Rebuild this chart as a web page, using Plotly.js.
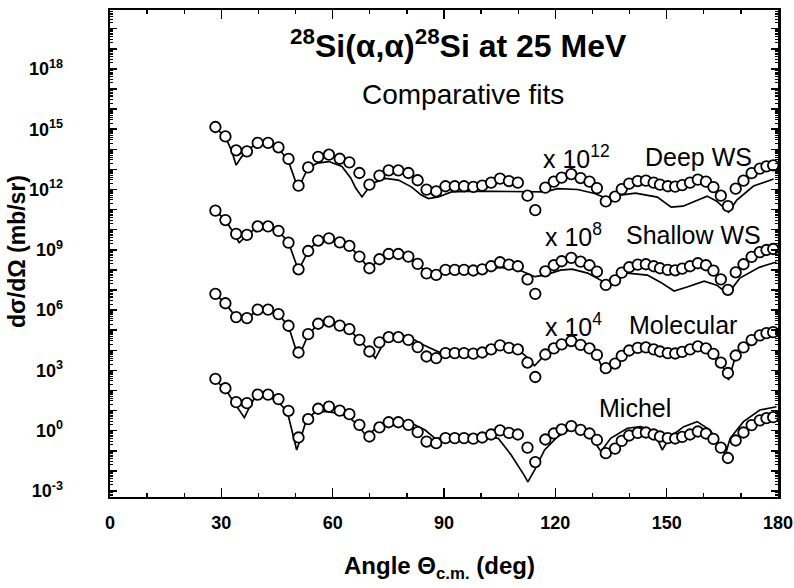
<!DOCTYPE html>
<html><head><meta charset="utf-8">
<script src="https://cdn.plot.ly/plotly-3.0.1.min.js"></script>
<style>html,body{margin:0;padding:0;background:#fff}#chart{width:794px;height:588px}</style>
</head><body><div id="chart"></div>
<script>
// Experimental angles (deg, c.m.) and cross sections (log10 mb/sr, unshifted = Michel level)
const angleExp = [28.4,31.1,34.0,36.9,39.8,42.6,45.4,48.1,50.8,53.4,
  56.1,59.0,61.9,64.5,67.2,69.9,72.6,75.1,77.7,80.4,
  82.9,85.3,87.9,90.4,92.9,95.4,97.9,100.3,102.7,105.1,
  107.5,109.9,112.5,114.6,117.3,119.6,121.7,124.3,126.8,129.2,
  131.2,133.6,136.1,137.9,139.9,142.2,144.4,146.5,148.2,150.3,
  152.3,154.2,156.3,158.4,160.6,162.6,164.6,166.5,168.6,170.7,
  172.9,175.1,176.9,178.7];
const sigmaExpLog10 = [2.58,2.11,1.42,1.37,1.79,1.79,1.57,0.99,-0.34,0.57,
  1.09,1.20,1.00,0.82,0.29,-0.29,0.16,0.42,0.42,0.29,
  -0.07,-0.54,-0.62,-0.37,-0.37,-0.37,-0.40,-0.34,-0.19,0.01,
  -0.11,-0.19,-0.84,-1.56,-0.44,-0.14,0.06,0.23,0.04,-0.14,
  -0.46,-1.12,-0.89,-0.51,-0.24,-0.11,-0.09,-0.19,-0.29,-0.37,
  -0.39,-0.31,-0.19,-0.04,-0.14,-0.41,-0.84,-1.36,-0.49,-0.09,
  0.28,0.51,0.62,0.67];

// vertical shift of each curve as drawn (decades)
const seriesNames = ['Deep WS','Shallow WS','Molecular','Michel'];
const shiftDecades = [12.53, 8.37, 4.23, 0];

// Fits (log10 mb/sr, before shift)
const fitDeepAngle = [28.4,31.1,32.7,34.0,35.4,37.0,39.7,42.6,45.3,48.0,50.8,52.0,53.4,55.8,59.0,62.5,64.9,66.2,67.9,69.2,70.5,74.2,77.7,81.2,83.9,85.8,88.5,92.0,96.5,102.7,108.0,112.6,117.2,120.6,126.0,130.6,134.9,137.5,141.6,147.5,151.2,154.4,158.2,160.9,163.5,165.4,166.7,168.9,173.4,178.8];
const fitDeepLog10 = [2.56,2.07,1.43,0.68,1.08,1.43,1.78,1.78,1.53,0.93,-0.56,0.03,0.53,0.78,0.86,0.61,0.03,-0.46,-0.90,-0.56,-0.24,0.02,-0.06,-0.40,-0.81,-0.98,-0.90,-0.65,-0.62,-0.62,-0.62,-0.65,-0.65,-0.49,-0.53,-0.73,-1.06,-0.81,-0.71,-0.91,-1.41,-1.36,-1.06,-0.86,-1.11,-1.41,-1.66,-1.06,-0.36,-0.01];

const fitShallowAngle = [28.4,31.1,33.0,34.8,36.9,39.8,42.6,45.4,48.1,50.8,53.4,56.1,59.0,61.9,64.5,67.2,69.9,72.6,75.1,77.7,80.4,82.9,85.3,87.9,90.4,95.4,100.3,105.1,109.9,112.5,114.4,117.2,121.4,124.5,128.7,133.2,135.9,139.4,144.8,148.3,152.0,155.5,160.1,163.5,166.5,169.7,175.1,179.6];
const fitShallowLog10 = [2.58,2.11,1.55,0.98,1.35,1.79,1.79,1.57,0.99,-0.40,0.57,1.09,1.20,1.00,0.82,0.29,-0.32,0.16,0.42,0.42,0.29,-0.07,-0.54,-0.62,-0.40,-0.40,-0.38,-0.25,-0.35,-0.55,-0.71,-0.63,-0.38,-0.33,-0.53,-0.98,-0.83,-0.53,-0.63,-0.98,-1.42,-1.22,-0.93,-1.13,-1.57,-0.78,-0.23,0.02];

const fitMolecularAngle = [28.4,31.1,34.0,36.9,39.8,42.6,45.4,48.1,50.8,53.4,56.1,59.0,61.9,64.5,67.2,69.9,71.5,74.2,77.0,80.2,84.5,88.5,90.4,95.4,100.3,105.1,109.9,112.5,114.4,117.3,119.6,121.7,124.3,126.8,129.2,131.2,133.2,136.1,137.9,139.9,142.2,144.4,146.5,148.2,150.3,152.3,154.2,156.3,158.4,160.6,162.6,164.6,166.7,168.6,170.7,172.9,175.1,176.9,178.7];
const fitMolecularLog10 = [2.55,2.10,1.40,1.35,1.77,1.78,1.55,0.97,-0.60,0.55,1.08,1.19,1.00,0.80,0.28,-0.25,-0.63,0.28,0.50,0.48,0.03,-0.31,-0.37,-0.37,-0.34,-0.05,-0.19,-0.60,-1.00,-0.44,-0.14,0.06,0.23,0.04,-0.14,-0.46,-1.36,-0.89,-0.51,-0.24,-0.11,-0.09,-0.19,-0.29,-0.37,-0.39,-0.31,-0.19,-0.04,-0.14,-0.41,-0.84,-1.71,-0.49,-0.09,0.28,0.51,0.62,0.67];

const fitMichelAngle = [28.4,31.1,33.0,36.2,37.5,39.1,42.0,44.9,47.8,50.3,51.5,52.9,55.4,58.5,61.2,64.2,66.8,69.5,71.0,74.6,77.7,81.3,84.9,87.6,89.8,96.5,99.2,104.6,108.1,111.7,112.6,114.4,117.1,120.6,125.1,127.8,130.5,132.3,134.9,139.4,143.0,146.6,148.8,151.0,154.6,158.2,161.7,164.4,165.8,167.1,170.7,175.1,179.6];
const fitMichelLog10 = [2.52,2.06,1.53,0.65,1.13,1.68,1.69,1.53,0.93,-0.96,-0.31,0.53,0.95,0.95,0.87,0.70,0.28,-0.38,0.03,0.45,0.48,0.37,0.03,-0.38,-0.38,-0.31,-0.25,-0.38,-1.21,-2.25,-2.55,-1.96,-0.96,-0.30,0.20,0.03,-0.55,-1.04,-0.38,0.12,0.20,-0.05,-0.96,-0.30,0.20,0.45,0.03,-0.71,-1.21,-0.38,0.45,1.03,1.19];

const fitAngles = [fitDeepAngle, fitShallowAngle, fitMolecularAngle, fitMichelAngle];
const fitLogs = [fitDeepLog10, fitShallowLog10, fitMolecularLog10, fitMichelLog10];

const xTickVals = [0,30,60,90,120,150,180];
const yDecades = [-3,-2,-1,0,1,2,3,4,5,6,7,8,9,10,11,12,13,14,15,16,17,18,19,20];
const yLabelDecades = [-3,0,3,6,9,12,15,18];

const traces = [];
for (let i = 0; i < 4; i++) {
  traces.push({
    type:'scatter', mode:'lines', name: seriesNames[i] + ' fit',
    x: fitAngles[i], y: fitLogs[i].map(v => Math.pow(10, v + shiftDecades[i])),
    line:{color:'#000', width:1.7}, hoverinfo:'skip', showlegend:false
  });
}
for (let i = 0; i < 4; i++) {
  traces.push({
    type:'scatter', mode:'markers', name: seriesNames[i] + ' data',
    x: angleExp, y: sigmaExpLog10.map(v => Math.pow(10, v + shiftDecades[i])),
    marker:{symbol:'circle', size:10.5, color:'#fff', line:{color:'#000', width:1.8}},
    showlegend:false
  });
}
// empty trace so that the labelled overlay y axis is drawn
traces.push({type:'scatter', mode:'markers', x:[], y:[], yaxis:'y2', showlegend:false, hoverinfo:'skip'});

const PX0 = 110, PW = 668, PY0 = 10, PH = 487;
const px = x => (x - PX0) / PW;
const py = y => (PY0 + PH - y) / PH;
const F = 'Liberation Sans, Arial, sans-serif';

const ann = (text, x, y, size, opts={}) => Object.assign({
  text, xref:'paper', yref:'paper', x:px(x), y:py(y), showarrow:false,
  xanchor:'left', yanchor:'middle', font:{family:F, size, color:'#000'}
}, opts);

const annotations = [
  ann('<b><sup>28</sup>Si(α,α)<sup>28</sup>Si at 25 MeV</b>', 458, 44, 32, {xanchor:'center'}),
  ann('Comparative fits', 463, 95, 28, {xanchor:'center'}),
  ann('x 10<sup>12</sup>', 541, 157, 25),
  ann('Deep WS', 643, 157, 25),
  ann('x 10<sup>8</sup>', 543, 235, 25),
  ann('Shallow WS', 624, 235, 25),
  ann('x 10<sup>4</sup>', 543, 325, 25),
  ann('Molecular', 627, 325, 25),
  ann('Michel', 597, 408, 25),
  ann('<b>Angle Θ<sub>c.m.</sub> (deg)</b>', 439, 567, 24, {xanchor:'center'}),
  ann('<b>dσ/dΩ (mb/sr)</b>', 17, 252, 23, {xanchor:'center', textangle:-90})
];

const yRange = [-3.3, 20.93];
const layout = {
  width:794, height:588,
  margin:{l:PX0, r:794-PX0-PW, t:PY0, b:588-PY0-PH},
  paper_bgcolor:'#fff', plot_bgcolor:'#fff',
  showlegend:false,
  xaxis:{
    range:[0,180], tickmode:'array', tickvals:xTickVals,
    ticktext:xTickVals.map(v => '<b>' + v + '</b>'),
    ticks:'inside', ticklen:9, tickwidth:1.6, tickcolor:'#000',
    minor:{tickmode:'linear', tick0:0, dtick:10, ticks:'inside', ticklen:4, tickwidth:1.3, tickcolor:'#000'},
    showline:true, linecolor:'#000', linewidth:2, mirror:'ticks',
    showgrid:false, zeroline:false, ticklabeloverflow:'allow',
    tickfont:{family:F, size:18, color:'#000'}, ticklabelstandoff:8
  },
  yaxis:{
    type:'log', range:yRange, tickmode:'array',
    tickvals:yDecades.map(d => Math.pow(10, d)),
    showticklabels:false,
    ticks:'inside', ticklen:7, tickwidth:1.5, tickcolor:'#000',
    minor:{ticks:'inside', ticklen:3, tickwidth:1, tickcolor:'#000', dtick:'D1'},
    showline:true, linecolor:'#000', linewidth:2.5, mirror:'ticks',
    showgrid:false, zeroline:false
  },
  yaxis2:{
    type:'log', range:yRange, overlaying:'y', side:'left', anchor:'x',
    tickmode:'array', tickvals:yLabelDecades.map(d => Math.pow(10, d)),
    ticktext:yLabelDecades.map(d => '<b>10<sup>' + d + '</sup></b>'),
    ticks:'', showline:false, showgrid:false, zeroline:false,
    tickfont:{family:F, size:18, color:'#000'}, ticklabelstandoff:46
  },
  annotations
};

Plotly.newPlot('chart', traces, layout, {displayModeBar:false, staticPlot:true});
</script>
</body></html>
